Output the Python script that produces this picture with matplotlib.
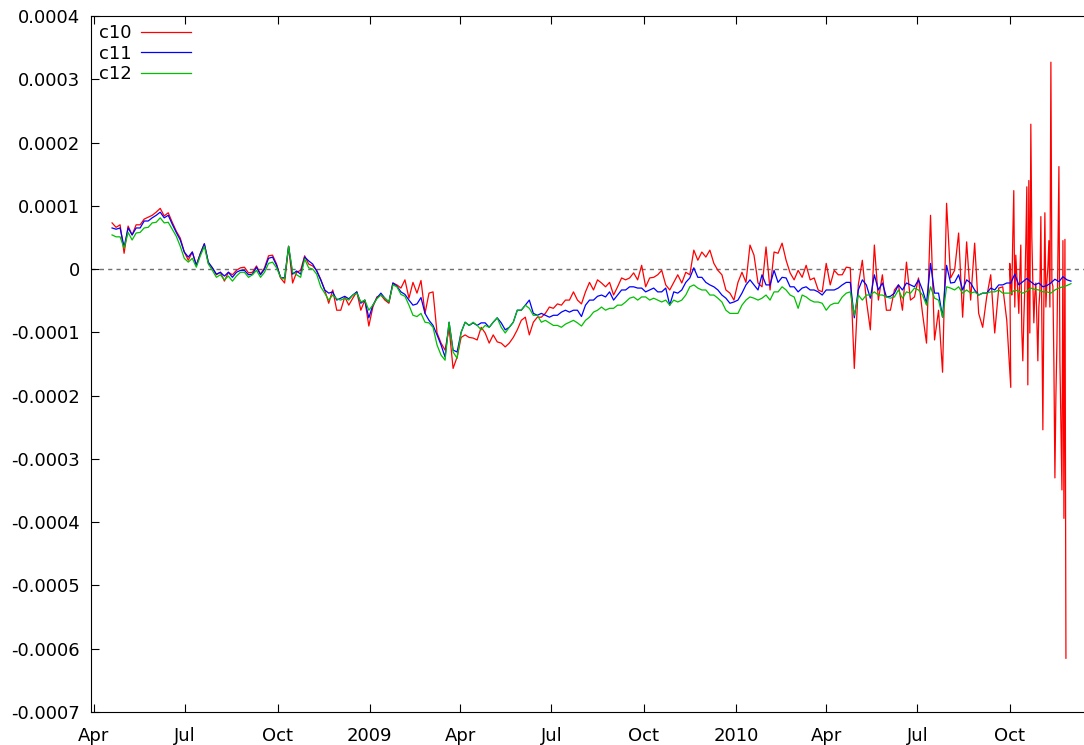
import matplotlib

matplotlib.use("Agg")
import matplotlib.dates as mdates
import matplotlib.pyplot as plt
import numpy as np
import pandas as pd
from matplotlib.ticker import FuncFormatter, MultipleLocator

SCALE = 1e-5  # values below are in units of 1e-5

# sampled every 4 days; c10 stops at 2010-09-30 and continues daily in c10_tail
dates = pd.date_range("2008-04-19", periods=240, freq="4D")
tail_dates = pd.date_range("2010-10-01", periods=57, freq="D")

c10 = [
    7.3, 6.6, 7.0, 2.5, 6.8, 5.4, 7.0, 7.0, 7.9, 8.2,
    8.5, 9.0, 9.6, 8.4, 8.9, 7.4, 6.0, 4.9, 2.7, 1.4,
    2.7, 0.6, 2.5, 4.0, 0.9, 0.2, -0.9, -0.5, -1.9, -0.5,
    -0.9, -0.2, 0.2, 0.3, -0.6, -0.5, 0.5, -0.8, 0.2, 2.1,
    2.2, 0.8, -1.4, -2.2, 3.6, -2.2, -0.5, -0.2, 2.1, 0.8,
    0.5, -0.2, -1.6, -3.3, -5.4, -3.3, -6.5, -6.5, -4.4, -5.7,
    -4.6, -3.6, -6.5, -4.9, -9.0, -6.0, -4.4, -4.1, -4.9, -5.4,
    -2.2, -2.5, -3.0, -1.7, -4.6, -2.1, -3.8, -1.8, -7.0, -3.8,
    -3.6, -10.1, -11.7, -12.8, -9.3, -15.7, -13.9, -10.8, -10.4, -10.8,
    -10.9, -11.2, -9.2, -10.1, -11.7, -10.4, -11.5, -11.7, -12.3, -11.7,
    -10.8, -9.6, -8.1, -7.6, -10.4, -8.4, -7.6, -7.6, -7.0, -6.0,
    -6.2, -5.5, -5.7, -4.9, -4.9, -3.6, -4.9, -5.5, -3.6, -2.1,
    -3.3, -1.7, -2.2, -2.8, -2.1, -4.1, -2.8, -1.4, -1.7, -1.4,
    -0.6, -1.7, 0.6, -2.8, -1.4, -1.3, -0.9, -0.2, -2.5, -3.3,
    -2.1, -0.9, -2.2, -0.5, -0.9, 3.0, 1.4, 2.7, 1.9, 3.0,
    0.9, -0.2, -0.9, -3.3, -3.8, -4.9, -2.1, -0.5, -2.1, 3.8,
    2.2, -2.2, -2.8, 3.5, -3.3, 2.7, 2.5, 4.1, 1.4, -0.6,
    -1.7, -0.2, -1.3, 0.6, -1.7, -1.4, -3.3, -3.6, 0.9, -2.5,
    -0.2, -0.9, -0.9, 0.3, 0.2, -15.7, -2.5, 1.4, -4.9, -9.6,
    3.8, -4.9, -0.9, -6.5, -6.5, -3.3, -2.5, -6.5, 1.1, -4.9,
    -4.4, -1.4, -7.0, -11.7, 8.5, -11.2, -6.5, -16.3, 10.4, -1.4,
    -0.2, 5.7, -7.6, 4.3, -4.9, 4.1, -7.0, -9.2, -4.4, -0.9,
    -10.1, -3.0, -2.8, -8.1, -18.7,
]
c10_tail = [
    0.9, -2.0, -4.1, 5.0, 12.4, -6.0, 2.2, -1.0, -3.5, -7.0,
    -1.0, 3.8, -9.8, -14.5, -8.0, -3.0, 4.0, 13.0, -18.3, 14.0,
    -10.1, 22.9, 5.0, -2.2, -8.5, -4.0, -2.2, -8.0, -14.5, -6.0,
    -3.6, 8.3, -8.0, -25.4, -5.0, 8.9, -6.0, -2.0, 0.3, 4.5,
    -6.0, 32.7, -2.1, -2.7, -15.0, -33.0, -20.0, -11.7, 2.0, 16.2,
    -14.5, -25.0, -34.9, 4.5, -39.4, 4.7, -61.5,
]
c11 = [
    6.5, 6.3, 6.5, 3.5, 6.5, 5.4, 6.5, 6.5, 7.6, 7.6,
    8.1, 8.5, 9.0, 8.1, 8.5, 7.1, 5.8, 4.6, 2.7, 1.9,
    2.7, 0.6, 2.4, 4.0, 1.1, 0.2, -0.8, -0.5, -1.1, -0.5,
    -1.3, -0.5, -0.2, -0.2, -0.9, -0.8, 0.3, -0.9, 0.0, 1.7,
    1.9, 0.6, -1.3, -1.4, 3.6, -0.8, -0.3, -0.8, 1.9, 1.3,
    0.8, -0.3, -1.7, -3.3, -3.8, -3.6, -4.9, -4.6, -4.3, -4.7,
    -4.1, -3.6, -5.4, -4.9, -7.7, -5.7, -4.6, -3.8, -4.6, -5.2,
    -2.2, -2.7, -3.6, -4.0, -4.9, -5.7, -5.5, -4.5, -7.0, -8.1,
    -8.9, -10.4, -12.0, -13.9, -8.4, -12.8, -13.1, -10.0, -8.4, -8.9,
    -8.5, -8.9, -8.5, -8.5, -9.2, -8.4, -7.7, -8.5, -9.6, -9.2,
    -8.4, -6.5, -6.5, -5.7, -4.9, -7.0, -7.3, -7.0, -7.3, -7.6,
    -7.3, -7.3, -6.8, -6.5, -6.8, -6.5, -6.5, -7.5, -5.7, -4.9,
    -4.9, -4.3, -4.1, -4.4, -3.6, -4.9, -4.1, -3.3, -3.3, -2.8,
    -2.8, -3.0, -3.0, -3.6, -3.3, -3.0, -3.6, -3.6, -3.0, -5.7,
    -3.6, -3.8, -3.3, -2.1, -1.4, 0.2, -1.3, -1.3, -2.1, -2.5,
    -2.8, -3.3, -4.1, -4.6, -5.4, -5.2, -4.9, -3.8, -2.5, -1.7,
    -2.5, -3.3, -0.9, -2.5, -2.5, -0.2, -2.1, -1.3, -1.4, -2.8,
    -2.8, -3.6, -3.0, -2.8, -3.3, -3.3, -3.6, -4.1, -3.3, -3.3,
    -3.3, -3.0, -2.5, -2.1, -2.1, -7.7, -3.3, -1.7, -2.5, -4.6,
    -0.9, -3.3, -2.2, -4.4, -4.3, -3.8, -2.5, -3.3, -2.2, -2.5,
    -2.8, -1.7, -3.3, -5.4, 0.9, -3.8, -3.8, -7.6, 0.6, -2.2,
    -2.1, -0.9, -3.3, -1.7, -2.2, -3.3, -4.1, -3.8, -3.8, -3.0,
    -3.3, -2.5, -2.5, -2.2, -2.2, -0.8, -2.5, -2.0, -1.5, -2.0,
    -2.5, -2.2, -2.8, -2.6, -2.2, -1.6, -2.0, -1.2, -1.7, -1.9,
]
c12 = [
    5.4, 5.1, 5.1, 3.3, 5.8, 4.6, 5.7, 5.8, 6.5, 6.6,
    7.3, 7.4, 8.1, 7.3, 7.4, 6.3, 5.2, 3.6, 1.7, 1.1,
    1.7, 0.3, 2.1, 3.6, 0.8, -0.2, -1.3, -0.9, -1.7, -1.1,
    -1.9, -1.1, -0.5, -0.5, -1.3, -0.9, -0.2, -1.3, -0.5, 0.9,
    1.1, 0.2, -1.3, -1.6, 3.6, -0.5, -0.9, -1.3, 1.6, 0.2,
    0.0, -0.8, -2.8, -3.8, -4.9, -4.1, -4.7, -4.9, -4.6, -4.9,
    -4.1, -3.8, -5.2, -4.9, -6.5, -5.7, -4.7, -4.1, -4.6, -5.2,
    -2.5, -2.8, -4.0, -4.3, -5.7, -7.3, -7.5, -7.0, -8.4, -8.5,
    -9.2, -12.0, -13.6, -14.4, -8.4, -13.1, -14.1, -10.0, -8.4, -8.9,
    -8.4, -8.9, -9.6, -8.9, -9.2, -8.4, -7.7, -9.2, -10.1, -9.2,
    -8.4, -6.5, -6.5, -5.7, -6.2, -7.3, -7.3, -8.4, -8.1, -8.5,
    -8.9, -8.9, -9.2, -8.7, -8.4, -8.1, -8.5, -9.0, -8.1, -7.6,
    -6.8, -6.5, -6.0, -6.5, -6.2, -6.2, -5.7, -5.7, -5.2, -4.6,
    -4.4, -4.9, -4.4, -4.4, -4.9, -4.6, -4.9, -5.2, -4.9, -5.7,
    -4.9, -5.2, -4.9, -4.1, -2.8, -2.5, -3.0, -3.3, -3.3, -4.1,
    -4.1, -4.6, -5.2, -6.5, -7.0, -7.0, -7.0, -5.7, -4.9, -4.4,
    -4.6, -4.9, -4.6, -4.1, -4.9, -3.6, -3.6, -2.8, -3.3, -4.1,
    -4.4, -6.2, -4.1, -4.4, -4.9, -5.2, -5.2, -5.4, -6.5, -5.7,
    -5.4, -5.4, -4.4, -3.8, -3.6, -7.3, -4.1, -4.9, -4.1, -4.1,
    -3.6, -4.1, -4.1, -4.4, -4.6, -4.4, -3.3, -4.6, -3.6, -3.8,
    -3.0, -3.3, -4.1, -5.7, -2.8, -4.6, -4.9, -7.6, -2.8, -3.0,
    -3.3, -2.8, -3.8, -3.3, -3.8, -3.6, -4.1, -3.8, -3.8, -3.6,
    -3.6, -3.3, -3.8, -3.8, -3.8, -3.3, -3.5, -3.8, -3.5, -3.0,
    -3.2, -3.3, -3.6, -3.6, -3.8, -3.3, -3.0, -2.8, -2.6, -2.3,
]

RED = "#ff0000"
BLUE = "#0000ff"
GREEN = "#00c000"

fig = plt.figure(figsize=(10.84, 7.45), dpi=100)
ax = fig.add_axes([91 / 1084, 33 / 745, 996 / 1084, 696 / 745])

c10_x = np.concatenate([dates[:len(c10)].values, tail_dates.values])
c10_y = np.array(c10 + c10_tail) * SCALE
ax.axhline(0, color="#707070", linewidth=1.0, linestyle=(0, (3, 3)), zorder=1)
ax.plot(c10_x, c10_y, color=RED, linewidth=0.9, label="c10")
ax.plot(dates, np.array(c11) * SCALE, color=BLUE, linewidth=0.9, label="c11")
ax.plot(dates, np.array(c12) * SCALE, color=GREEN, linewidth=0.9, label="c12")

# the plot box runs past the right edge of the image, so no right border
ax.set_xlim(pd.Timestamp("2008-03-29"), pd.Timestamp("2010-12-17"))
ax.set_ylim(-0.0007, 0.0004)

ax.yaxis.set_major_locator(MultipleLocator(0.0001))
ax.yaxis.set_major_formatter(FuncFormatter(
    lambda v, _: "0" if abs(v) < 1e-12 else f"{v:.4f}"))
ax.xaxis.set_major_locator(mdates.MonthLocator(bymonth=[1, 4, 7, 10]))


def month_label(v, _):
    d = mdates.num2date(v)
    return d.strftime("%Y") if d.month == 1 else d.strftime("%b")


ax.xaxis.set_major_formatter(FuncFormatter(month_label))
ax.tick_params(direction="in", length=6, width=0.8, top=True, right=False,
               labelsize=13, colors="black")
ax.tick_params(axis="x", pad=11)
ax.tick_params(axis="y", pad=8)
for spine in ax.spines.values():
    spine.set_linewidth(0.8)
ax.spines["right"].set_visible(False)

ax.legend(loc="upper left", frameon=False, markerfirst=False, fontsize=13,
          handlelength=2.8, handletextpad=0.5, labelspacing=0.14,
          borderaxespad=0.2, borderpad=0.25)

fig.savefig("out.png", dpi=100)
